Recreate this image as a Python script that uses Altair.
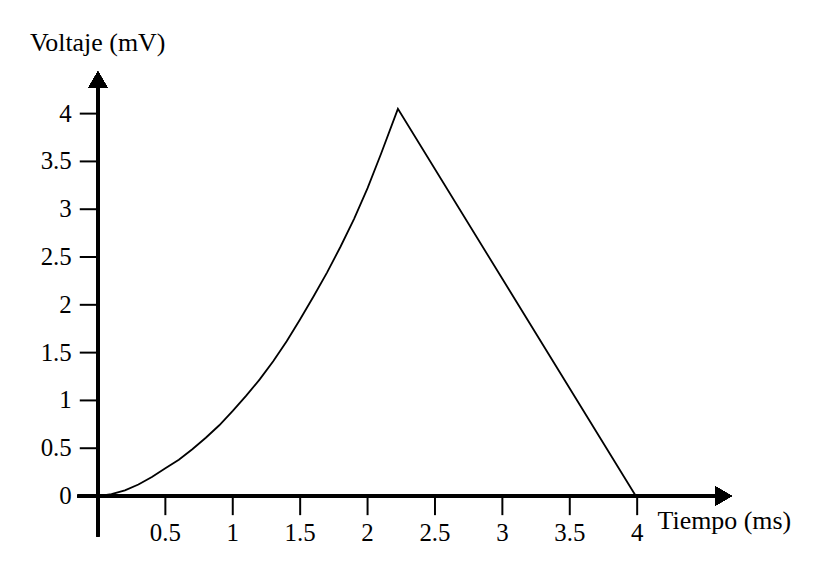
import altair as alt
import pandas as pd

# Curve: Voltaje (mV) vs Tiempo (ms)
t_vals = [0, 0.1, 0.2, 0.3, 0.4, 0.5, 0.6, 0.7, 0.8, 0.9, 1.0, 1.1, 1.2, 1.3,
          1.4, 1.5, 1.6, 1.7, 1.8, 1.9, 2.0, 2.1, 2.225, 3.99]
v_vals = [0, 0.02, 0.06, 0.12, 0.20, 0.29, 0.38, 0.49, 0.61, 0.74, 0.89, 1.05,
          1.22, 1.41, 1.62, 1.85, 2.09, 2.34, 2.61, 2.90, 3.22, 3.58, 4.05, 0.0]

x_ticks = [0.5, 1, 1.5, 2, 2.5, 3, 3.5, 4]
x_tick_labels = ["0.5", "1", "1.5", "2", "2.5", "3", "3.5", "4"]
y_ticks = [0, 0.5, 1, 1.5, 2, 2.5, 3, 3.5, 4]
y_tick_labels = ["0", "0.5", "1", "1.5", "2", "2.5", "3", "3.5", "4"]

x_title = "Tiempo (ms)"
y_title = "Voltaje (mV)"

FONT = "Liberation Serif"
W, H = 663, 475
xs = alt.Scale(domain=[-0.15, 4.75], nice=False, zero=False)
ys = alt.Scale(domain=[-0.45, 4.5], nice=False, zero=False)

curve_df = pd.DataFrame({"t": t_vals, "v": v_vals, "i": list(range(len(t_vals)))})
xt_df = pd.DataFrame({"x": x_ticks, "label": x_tick_labels})
yt_df = pd.DataFrame({"y": y_ticks, "label": y_tick_labels})

curve = alt.Chart(curve_df).mark_line(color="black", strokeWidth=1.8).encode(
    x=alt.X("t:Q", scale=xs, axis=None),
    y=alt.Y("v:Q", scale=ys, axis=None),
    order="i:Q",
)

y_axis_line = alt.Chart(curve_df).mark_rule(color="black", strokeWidth=2.8).encode(
    x=alt.XDatum(0, scale=xs, axis=None),
    y=alt.YDatum(-0.42, scale=ys, axis=None),
    y2=alt.Y2Datum(4.3),
)
x_axis_line = alt.Chart(curve_df).mark_rule(color="black", strokeWidth=2.8).encode(
    y=alt.YDatum(0, scale=ys, axis=None),
    x=alt.XDatum(-0.15, scale=xs, axis=None),
    x2=alt.X2Datum(4.6),
)
y_arrow = alt.Chart(curve_df).mark_point(
    shape="triangle-up", filled=True, color="black", size=360, opacity=1
).encode(
    x=alt.XDatum(0, scale=xs, axis=None),
    y=alt.YDatum(4.355, scale=ys, axis=None),
)
x_arrow = alt.Chart(curve_df).mark_point(
    shape="triangle-right", filled=True, color="black", size=360, opacity=1
).encode(
    x=alt.XDatum(4.64, scale=xs, axis=None),
    y=alt.YDatum(0, scale=ys, axis=None),
)

x_tick_marks = alt.Chart(xt_df).mark_rule(color="black", strokeWidth=2).encode(
    x=alt.X("x:Q", scale=xs, axis=None),
    y=alt.YDatum(0, scale=ys, axis=None),
    y2=alt.Y2Datum(-0.2),
)
y_tick_marks = alt.Chart(yt_df).mark_rule(color="black", strokeWidth=2).encode(
    y=alt.Y("y:Q", scale=ys, axis=None),
    x=alt.XDatum(-0.135, scale=xs, axis=None),
    x2=alt.X2Datum(0),
)

x_labels = alt.Chart(xt_df).mark_text(
    font=FONT, fontSize=25, color="black", align="center", baseline="middle"
).encode(
    x=alt.X("x:Q", scale=xs, axis=None),
    y=alt.value(469),
    text="label:N",
)
y_labels = alt.Chart(yt_df).mark_text(
    font=FONT, fontSize=25, color="black", align="right", baseline="middle"
).encode(
    y=alt.Y("y:Q", scale=ys, axis=None),
    x=alt.value(-6),
    text="label:N",
)

x_title_mark = alt.Chart(pd.DataFrame({"label": [x_title]})).mark_text(
    font=FONT, fontSize=26, color="black", align="left", baseline="middle"
).encode(x=alt.value(582), y=alt.value(457), text="label:N")

y_title_mark = alt.Chart(pd.DataFrame({"label": [y_title]})).mark_text(
    font=FONT, fontSize=26, color="black", align="left", baseline="middle"
).encode(x=alt.value(-48), y=alt.value(-23), text="label:N")

chart = alt.layer(
    y_axis_line, x_axis_line, y_arrow, x_arrow, x_tick_marks, y_tick_marks,
    curve, x_labels, y_labels, x_title_mark, y_title_mark,
).properties(
    width=W, height=H,
    autosize=alt.AutoSizeParams(type="none"),
    padding={"left": 70, "top": 57, "right": 75, "bottom": 20},
).configure(
    background="white",
    view=alt.ViewConfig(stroke=None),
)

chart.save("out.html", embed_options={"renderer": "svg", "actions": False})
